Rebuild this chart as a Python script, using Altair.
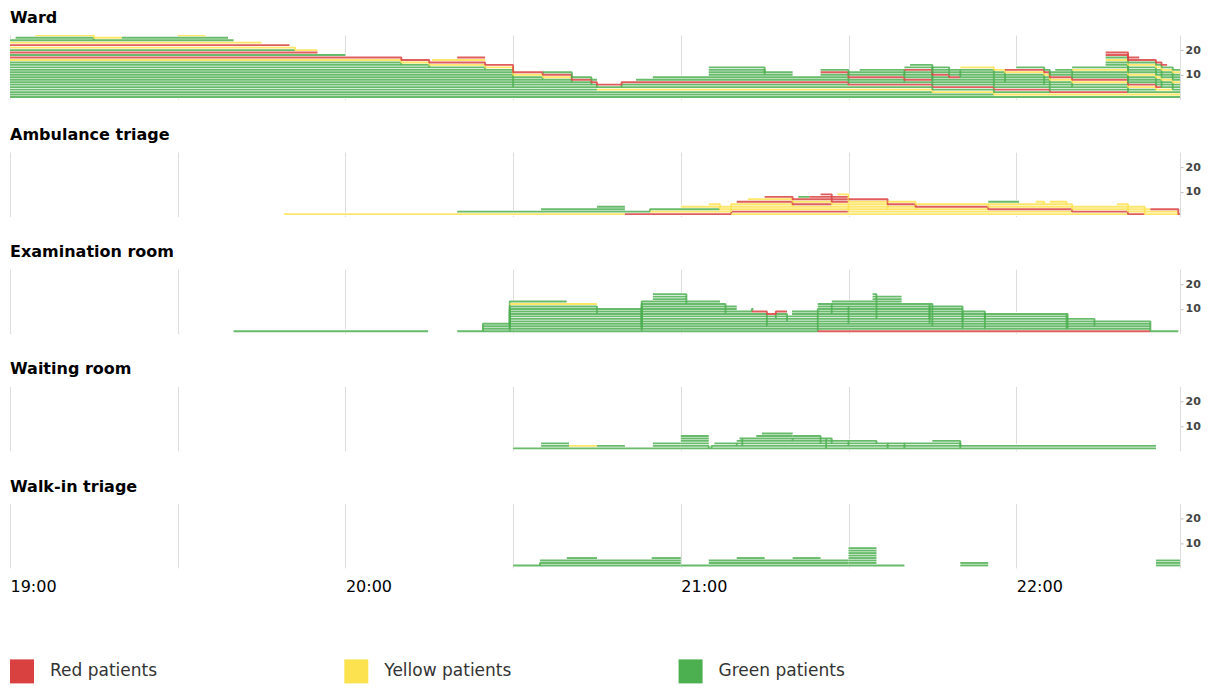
import altair as alt
import pandas as pd

# Categories
CATEGORY = {"R": "Red patients", "Y": "Yellow patients", "G": "Green patients"}
CAT_ORDER = ["Red patients", "Yellow patients", "Green patients"]
CAT_COLORS = ["#d94141", "#fde24f", "#4caf50"]

# Axis labels
HOUR_LABELS = ["19:00", "20:00", "21:00", "22:00"]

# Patients per room: (triage colour, start [min after 19:00], end [min after 19:00], stacking rank)
ward = [
    ("G", 0, 210, 1), ("G", 0, 176, 2), ("G", 0, 165, 3), ("G", 0, 105, 4), ("G", 0, 90, 5),
    ("G", 0, 105, 6), ("G", 0, 104, 7), ("G", 0, 100.5, 8), ("G", 0, 95.3, 9), ("G", 0, 90, 10),
    ("G", 0, 90, 11), ("G", 0, 85, 12), ("G", 0, 75, 13), ("G", 0, 70, 14), ("G", 0, 150, 15),
    ("Y", 0, 100.5, 16), ("R", 0, 200, 17), ("G", 0, 60, 18), ("R", 0, 55, 19), ("G", 0, 51, 20),
    ("Y", 0, 55, 21), ("R", 0, 50, 22), ("Y", 0, 45, 23), ("G", 0, 15, 24),
    ("G", 1, 40, 25), ("Y", 4.5, 20, 26), ("G", 20, 39, 27), ("Y", 30, 35, 28),
    ("Y", 75.5, 85, 29), ("R", 80, 85, 30), ("G", 95.3, 105, 31),
    ("Y", 105, 210, 3.5), ("G", 109.4, 186, 3.7), ("G", 112, 160, 17.5), ("G", 115, 210, 32),
    ("G", 125, 135, 33), ("G", 125, 135, 34), ("G", 125, 140, 35), ("G", 125, 140, 36),
    ("G", 145, 150, 37), ("R", 145, 165, 38), ("G", 145, 160, 39),
    ("G", 150, 185, 40), ("G", 152, 178, 41),
    ("G", 160, 168, 42), ("R", 160, 170, 43), ("G", 160, 190, 44), ("G", 161, 200, 45),
    ("G", 165, 186, 46), ("G", 170, 205, 47), ("Y", 170, 208, 48), ("R", 178, 206, 49),
    ("G", 180, 210, 50), ("G", 186, 210, 51), ("G", 187, 210, 52), ("Y", 190, 210, 53),
    ("G", 190, 210, 54),
    ("G", 196, 210, 55), ("G", 196, 210, 56), ("Y", 196, 210, 57), ("G", 196, 210, 58),
    ("R", 196, 207, 59), ("R", 196, 202, 60),
]

ambulance = [
    ("Y", 49, 110, 1), ("G", 80, 127, 3), ("G", 95, 110, 4), ("G", 105, 110, 5),
    ("R", 110, 150, 2), ("Y", 114.5, 190, 2.5), ("Y", 120, 140, 6), ("Y", 125, 157, 7),
    ("Y", 129, 200, 1.5), ("R", 130, 147, 8), ("Y", 132, 162, 9), ("R", 135, 150, 10),
    ("G", 141, 143, 11), ("R", 143, 150, 12), ("R", 145, 150, 13),
    ("Y", 148, 157, 15), ("Y", 150, 175, 14), ("R", 150, 203, 16), ("Y", 157, 209, 17),
    ("G", 175, 180.5, 19), ("Y", 175, 185, 18.5), ("Y", 183.5, 189, 20), ("Y", 186, 209, 21),
    ("Y", 198, 204, 22), ("R", 204, 210, 23),
]

examination = [
    ("G", 40, 74.8, 0), ("G", 80, 99.6, 10), ("G", 84.6, 113, 5), ("G", 84.6, 130, 4),
    ("G", 84.6, 121, 3),
    ("G", 89.4, 105, 2.9), ("G", 89.4, 130, 2.8), ("G", 89.4, 133, 2.7), ("G", 89.4, 147, 2.6),
    ("G", 89.4, 128, 2.5), ("G", 89.4, 155, 2.4), ("G", 89.4, 139, 2.3), ("G", 89.4, 164.5, 2.2),
    ("Y", 89.4, 105, 9),
    ("G", 113, 150, 1.9), ("G", 113, 135.4, 1.8), ("G", 113, 165, 1.7), ("G", 113, 170.4, 1.6),
    ("G", 115, 121, 20), ("G", 115, 121, 21), ("G", 115, 127, 22),
    ("R", 132.7, 139, 2.65), ("G", 137, 174.4, 2.35), ("G", 139.9, 164.5, 25), ("G", 139.9, 189, 26),
    ("R", 144.5, 204, 0.5), ("G", 144.5, 170.4, 27), ("G", 144.5, 189.2, 28),
    ("G", 147, 174.4, 30), ("G", 147, 174.4, 31), ("G", 150, 204, 29),
    ("G", 154.3, 159.5, 40), ("G", 154.3, 159.5, 41), ("G", 154.3, 159.5, 42),
    ("G", 164.5, 170.4, 43), ("G", 164.5, 194, 44), ("G", 170.4, 204, 45),
    ("G", 174.4, 204, 46), ("G", 174.4, 189.2, 47), ("G", 189, 209, 50),
]

waiting = [
    ("G", 90, 125, 1), ("G", 95, 100, 2), ("G", 95, 100, 3), ("Y", 100, 105, 2.5),
    ("G", 105, 110, 2.6), ("G", 115, 120, 3.1), ("G", 115, 120, 3.2),
    ("G", 120, 130, 8), ("G", 120, 125, 9), ("G", 120, 125, 10), ("G", 120, 125, 11),
    ("G", 120, 125, 12), ("G", 125.5, 146, 0.5), ("G", 126, 131, 13),
    ("G", 130, 157, 14), ("G", 130, 145, 15), ("G", 130.5, 140, 16), ("G", 131, 150, 17),
    ("G", 133.5, 140, 18), ("G", 134.5, 140, 19), ("G", 140, 147, 20), ("G", 140, 160, 21),
    ("G", 146, 155, 22), ("G", 150, 160, 23), ("G", 157, 170, 24), ("G", 160, 170, 25),
    ("G", 160, 205, 26), ("G", 165, 205, 27),
]

walkin = [
    ("G", 90, 120, 2), ("G", 94.8, 120, 1), ("G", 94.8, 120, 3), ("G", 99.6, 105, 4),
    ("G", 114.8, 120, 4.1),
    ("G", 120, 160, 1), ("G", 125, 150, 2), ("G", 125, 150, 2.5), ("G", 130, 135, 3),
    ("G", 140, 145, 3.1),
    ("G", 150, 155, 4), ("G", 150, 155, 5), ("G", 150, 155, 6), ("G", 150, 155, 7),
    ("G", 150, 155, 8), ("G", 150, 155, 9), ("G", 150, 155, 10),
    ("G", 170, 175, 1), ("G", 170, 175, 2),
    ("G", 205, 210, 1), ("G", 205, 210, 2), ("G", 205, 210, 3),
]

ROOMS = [
    ("Ward", ward),
    ("Ambulance triage", ambulance),
    ("Examination room", examination),
    ("Waiting room", waiting),
    ("Walk-in triage", walkin),
]


def stack(patients):
    """Each patient occupies the slot given by its rank among patients present."""
    times = sorted({p[1] for p in patients} | {p[2] for p in patients})
    track = {i: [] for i in range(len(patients))}
    for t in times:
        present = [i for i, p in enumerate(patients) if p[1] <= t < p[2]]
        present.sort(key=lambda i: (patients[i][3], i))
        for lvl, i in enumerate(present, 1):
            pts = track[i]
            if not pts or pts[-1][1] != lvl:
                pts.append((t, lvl))
    rows = []
    for i, p in enumerate(patients):
        pts = track[i] + [(p[2], track[i][-1][1])]
        for t, lvl in pts:
            rows.append({"pid": i, "t": t, "level": lvl, "cat": CATEGORY[p[0]]})
    return pd.DataFrame(rows)


FONT = "DejaVu Sans"
COLOR_SCALE = alt.Scale(domain=CAT_ORDER, range=CAT_COLORS)
PANEL_W, PANEL_H = 1170, 64.5
X_DOMAIN = [0, 209.3]
Y_DOMAIN = [0, 26.1]


def panel(name, patients, last):
    df = stack(patients)
    xaxis = alt.Axis(
        values=list(range(0, 210, 30)), grid=True, gridColor="#dddddd", gridWidth=1,
        ticks=False, domain=False, title=None, labels=last,
        labelExpr="datum.value % 60 == 0 ? ['" + "','".join(HOUR_LABELS) + "'][datum.value / 60] : ''",
        labelAlign="left", labelFontSize=16, labelFont=FONT, labelColor="#000",
        labelPadding=10.7, labelFlush=False,
    )
    yaxis = alt.Axis(
        orient="right", values=[10, 20], grid=False, title=None, labelFontWeight="bold",
        labelFontSize=11, labelFont=FONT, labelColor="#444", tickSize=3, tickColor="#bbbbbb",
        domainColor="#dddddd", labelPadding=2,
    )
    x = alt.X("t:Q", scale=alt.Scale(domain=X_DOMAIN, nice=False, zero=False), axis=xaxis)
    y = alt.Y("level:Q", scale=alt.Scale(domain=Y_DOMAIN, nice=False, zero=True), axis=yaxis)
    base = alt.Chart(df)
    halo = base.mark_line(
        interpolate="step-after", color="white", strokeWidth=3.4, clip=True, strokeJoin="bevel"
    ).encode(x=x, y=y, detail="pid:N")
    lines = base.mark_line(
        interpolate="step-after", strokeWidth=1.9, opacity=0.85, clip=True, strokeJoin="bevel"
    ).encode(
        x=x, y=y, detail="pid:N",
        color=alt.Color("cat:N", scale=COLOR_SCALE, legend=None),
    )
    return alt.layer(halo, lines).properties(
        width=PANEL_W, height=PANEL_H,
        title=alt.TitleParams(name, anchor="start", fontSize=16, fontWeight="bold", font=FONT,
                              color="#000", offset=8.9),
    )


panels = [panel(n, p, i == len(ROOMS) - 1) for i, (n, p) in enumerate(ROOMS)]

# Legend row (one entry per triage category, spaced on an index scale)
legend_df = pd.DataFrame({"idx": [0, 1, 2], "cat": CAT_ORDER})
lx = alt.X("idx:Q", scale=alt.Scale(domain=[0, 3.5], nice=False, zero=False), axis=None)
swatch = alt.Chart(legend_df).mark_square(size=576, opacity=1, xOffset=12, strokeWidth=0).encode(
    x=lx, y=alt.value(12), color=alt.Color("cat:N", scale=COLOR_SCALE, legend=None)
)
label = alt.Chart(legend_df).mark_text(
    align="left", baseline="middle", dx=40, fontSize=17, font=FONT, color="#333"
).encode(x=lx, y=alt.value(12), text="cat:N")
legend_row = alt.layer(swatch, label).properties(width=PANEL_W, height=24)

chart = alt.vconcat(
    alt.vconcat(*panels, spacing=27.1),
    legend_row,
    spacing=64.4,
).properties(
    padding={"left": 2, "top": 2, "right": 0, "bottom": 0}
).configure_view(stroke=None)

chart.save("out.html", embed_options={"renderer": "svg", "actions": False})
